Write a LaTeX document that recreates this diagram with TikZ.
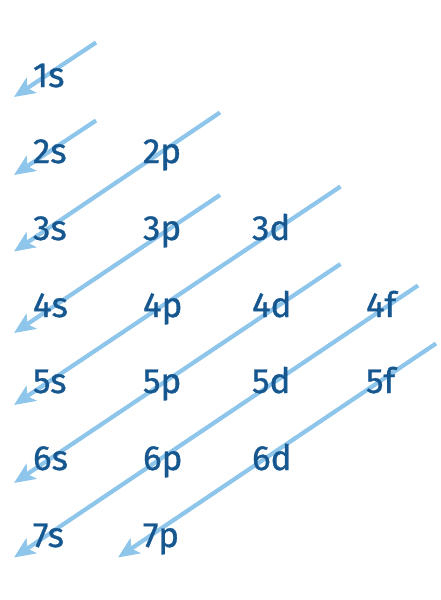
\documentclass[tikz,border=0pt]{standalone}
\usepackage{fontspec}
\setmainfont{Fira Sans}
\newfontfamily\orbfont{Fira Sans}[FakeBold=0.9]
\usetikzlibrary{arrows.meta}
\definecolor{arrowblue}{HTML}{8EC5EA}
\definecolor{textblue}{HTML}{17578F}
\begin{document}
\begin{tikzpicture}[x=1pt,y=-1pt,
  orb/.style={anchor=base west,inner sep=0pt,outer sep=0pt,text=textblue,font=\orbfont\fontsize{35}{35}\selectfont},
  diag/.style={draw=arrowblue,line width=4.2pt,-{Stealth[length=21pt,width=18pt,inset=5pt]}}]
\useasboundingbox (0,0) rectangle (441,600);
% arrow end points
\coordinate (t1) at (96,42.5);   \coordinate (h1) at (14,97);
\coordinate (t2) at (96,120.5);  \coordinate (h2) at (14,175);
\coordinate (t3) at (220,112.5); \coordinate (h3) at (14,251.5);
\coordinate (t4) at (220,195);   \coordinate (h4) at (14,333);
\coordinate (t5) at (340.5,186.5); \coordinate (h5) at (14,405);
\coordinate (t6) at (340.5,264); \coordinate (h6) at (14,483);
\coordinate (t7) at (418,285.5); \coordinate (h7) at (14,557.5);
\coordinate (t8) at (436,343.5); \coordinate (h8) at (118,557.5);
\foreach \i in {1,...,8} {\draw[diag] (t\i) -- (h\i);}
% labels
\node[orb] (n1s) at (33,87) {1s};
\node[orb] (n2s) at (33,163) {2s};
\node[orb] (n2p) at (143,163) {2p};
\node[orb] (n3s) at (33,240) {3s};
\node[orb] (n3p) at (143,240) {3p};
\node[orb] (n3d) at (252,240) {3d};
\node[orb] (n4s) at (33,317) {4s};
\node[orb] (n4p) at (143,317) {4p};
\node[orb] (n4d) at (252,317) {4d};
\node[orb] (n4f) at (366,317) {4f};
\node[orb] (n5s) at (33,393) {5s};
\node[orb] (n5p) at (143,393) {5p};
\node[orb] (n5d) at (252,393) {5d};
\node[orb] (n5f) at (366,393) {5f};
\node[orb] (n6s) at (33,470) {6s};
\node[orb] (n6p) at (143,470) {6p};
\node[orb] (n6d) at (252,470) {6d};
\node[orb] (n7s) at (33,547) {7s};
\node[orb] (n7p) at (143,547) {7p};
\end{tikzpicture}
\end{document}
